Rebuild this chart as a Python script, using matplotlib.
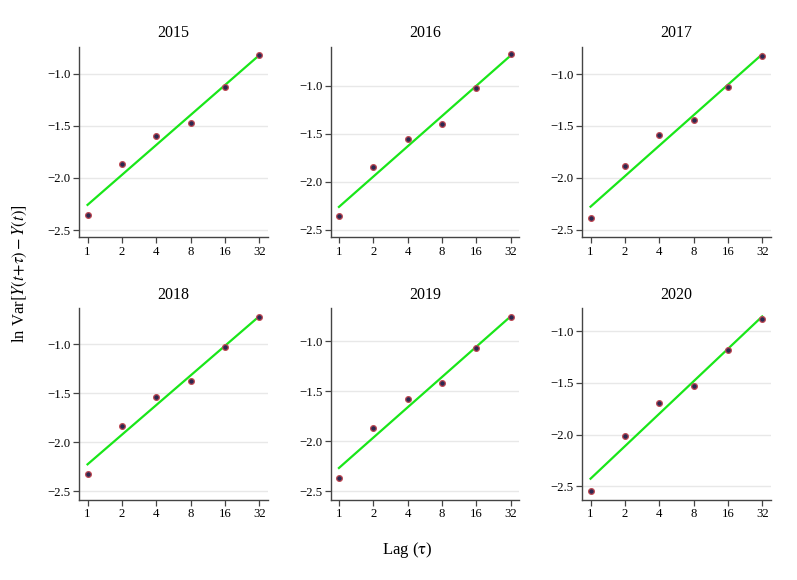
import numpy as np
import matplotlib
matplotlib.use("Agg")
import matplotlib.pyplot as plt

plt.rcParams['font.family'] = ['Liberation Serif', 'DejaVu Serif']
plt.rcParams['mathtext.fontset'] = 'stix'

years = ["2015", "2016", "2017", "2018", "2019", "2020"]
lags = [1, 2, 4, 8, 16, 32]
lag_labels = ["1", "2", "4", "8", "16", "32"]

v2015 = [-2.36, -1.87, -1.594, -1.471, -1.128, -0.818]
v2016 = [-2.354, -1.847, -1.552, -1.399, -1.021, -0.673]
v2017 = [-2.391, -1.890, -1.591, -1.442, -1.125, -0.824]
v2018 = [-2.326, -1.831, -1.538, -1.375, -1.034, -0.725]
v2019 = [-2.370, -1.863, -1.577, -1.420, -1.067, -0.757]
v2020 = [-2.548, -2.010, -1.696, -1.535, -1.184, -0.881]
values = [v2015, v2016, v2017, v2018, v2019, v2020]

ylims = [(-2.57, -0.74), (-2.579, -0.594), (-2.573, -0.737),
         (-2.589, -0.636), (-2.587, -0.67), (-2.632, -0.78)]

W, H = 797, 580
fig = plt.figure(figsize=(W / 100, H / 100), dpi=100)

col_left = [79.3, 330.7, 582.3]
ax_w = 188.5
row_top = [46.7, 308.3]
row_bot = [237.3, 500.0]

for i, (yr, vals) in enumerate(zip(years, values)):
    r, c = divmod(i, 3)
    ax = fig.add_axes([col_left[c] / W, 1 - row_bot[r] / H, ax_w / W,
                       (row_bot[r] - row_top[r]) / H])
    ax.set_xscale('log', base=2)
    x = np.log2(lags)
    k, b = np.polyfit(x, vals, 1)
    fit = k * x + b
    ax.plot(lags, fit, color='#19e619', lw=1.6, zorder=3)
    ax.scatter(lags, vals, s=17, facecolor='#2c2850', edgecolor='#c04a55',
               linewidth=0.9, zorder=4)
    ax.set_xlim(2 ** -0.24, 2 ** 5.25)
    ax.set_ylim(*ylims[i])
    ax.set_xticks(lags)
    ax.set_xticklabels(lag_labels)
    ax.xaxis.set_minor_locator(matplotlib.ticker.NullLocator())
    ax.set_yticks([-2.5, -2.0, -1.5, -1.0])
    ax.set_yticklabels(['\u22122.5', '\u22122.0', '\u22121.5', '\u22121.0'])
    ax.grid(axis='y', color='#e8e8e8', lw=1.0, zorder=0)
    ax.set_axisbelow(True)
    for s in ['top', 'right']:
        ax.spines[s].set_visible(False)
    for s in ['left', 'bottom']:
        ax.spines[s].set_color('#444444')
        ax.spines[s].set_linewidth(1.0)
    ax.tick_params(axis='both', direction='out', length=4, width=0.9,
                   color='#444444', labelsize=9.2, pad=2)
    ax.set_title(yr, fontsize=11.5, pad=7)

fig.text(407 / W, 1 - 550 / H, r'Lag ($\mathrm{\tau}$)', ha='center', va='center',
         fontsize=12)
fig.text(20 / W, 1 - 274 / H, r'ln Var$[Y(t\!+\!\tau) - Y(t)]$', ha='center',
         va='center', rotation=90, fontsize=12)

fig.savefig('out.png', dpi=100)
